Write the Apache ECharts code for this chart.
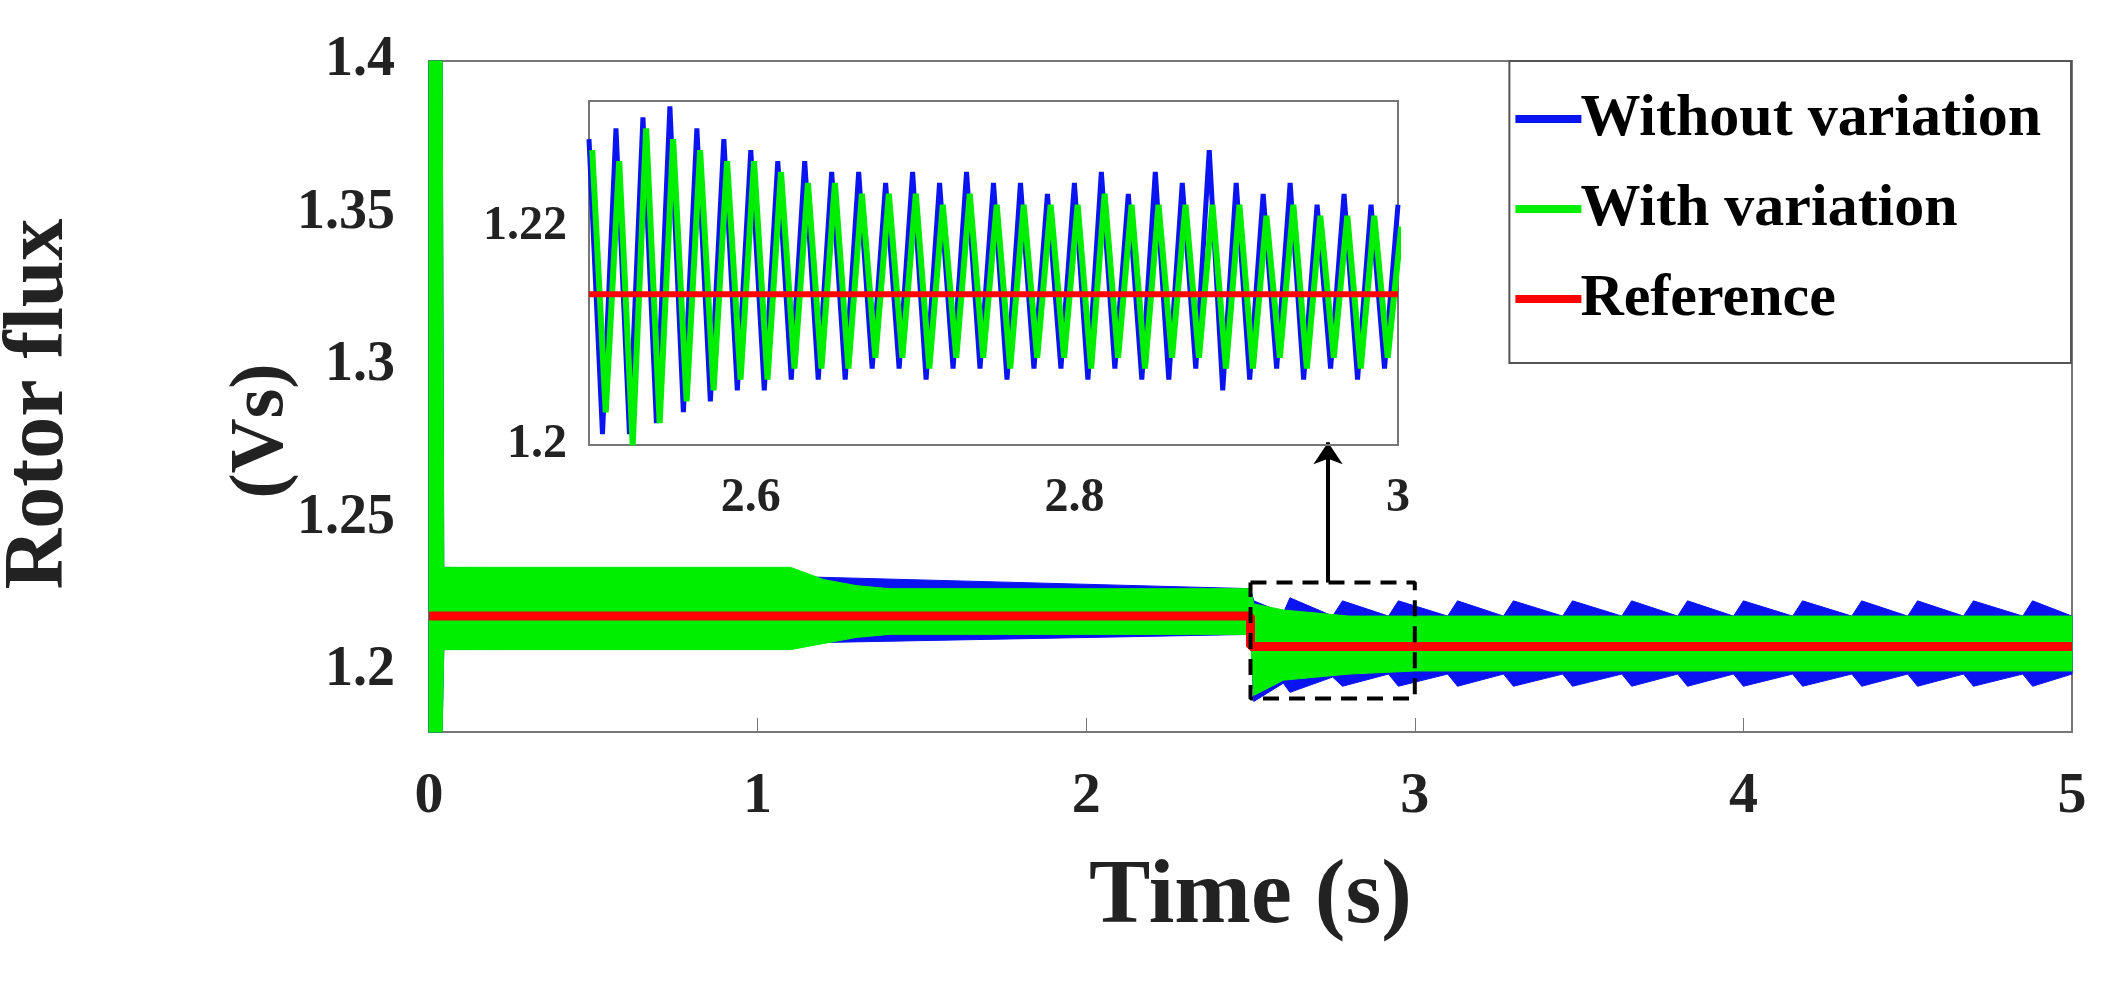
<!doctype html>
<html>
<head>
<meta charset="utf-8">
<script src="https://cdn.jsdelivr.net/npm/echarts@6/dist/echarts.min.js"></script>
<style>html,body{margin:0;background:#fff}#c{width:2104px;height:992px}</style>
</head>
<body>
<div id="c"></div>
<script>
// main chart bands (upper / lower envelope of the oscillation)
var greenT  = [0, 0.04, 0.045, 1.1, 1.2, 1.3, 1.4, 2.0, 2.5, 2.51, 2.6, 2.8, 3.0, 5.0];
var greenHi = [1.4, 1.4, 1.234, 1.234, 1.230, 1.228, 1.227, 1.227, 1.227, 1.222, 1.220, 1.218, 1.218, 1.218];
var greenLo = [1.18, 1.18, 1.207, 1.207, 1.209, 1.211, 1.212, 1.212, 1.212, 1.192, 1.197, 1.199, 1.200, 1.200];

var blueT  = [0, 0.04, 0.045, 2.5, 2.51, 2.6, 2.62, 2.75, 2.78, 2.92, 2.95, 3.1, 3.13, 3.27, 3.3, 3.45, 3.48, 3.63, 3.66, 3.8, 3.83, 3.97, 4.0, 4.15, 4.18, 4.33, 4.36, 4.5, 4.53, 4.67, 4.7, 4.85, 4.88, 5.0];
var blueHi = [1.4, 1.4, 1.234, 1.227, 1.223, 1.219, 1.224, 1.218, 1.223, 1.218, 1.223, 1.218, 1.223, 1.218, 1.223, 1.218, 1.223, 1.218, 1.223, 1.218, 1.223, 1.218, 1.223, 1.218, 1.223, 1.218, 1.223, 1.218, 1.223, 1.218, 1.223, 1.218, 1.223, 1.218];
var blueLo = [1.18, 1.18, 1.207, 1.212, 1.190, 1.196, 1.193, 1.198, 1.195, 1.199, 1.195, 1.199, 1.195, 1.199, 1.195, 1.199, 1.195, 1.199, 1.195, 1.199, 1.195, 1.199, 1.195, 1.199, 1.195, 1.199, 1.195, 1.199, 1.195, 1.199, 1.195, 1.199, 1.195, 1.199];

var refT = [0, 2.5, 2.5, 5];
var refV = [1.218, 1.218, 1.208, 1.208];

// inset: successive peaks / troughs between 2.5 and 3 s
var insetStep = 0.5 / 60;
var blueIn = [1.228,1.201,1.229,1.201,1.230,1.202,1.231,1.203,1.229,1.204,1.228,1.205,1.227,1.205,1.226,1.206,1.226,1.206,1.225,1.206,1.225,1.207,1.224,1.207,1.225,1.206,1.224,1.207,1.225,1.207,1.224,1.206,1.224,1.207,1.223,1.207,1.224,1.206,1.225,1.207,1.223,1.206,1.225,1.206,1.224,1.207,1.227,1.205,1.224,1.206,1.223,1.207,1.224,1.206,1.222,1.207,1.223,1.206,1.222,1.207,1.222];
var greenIn = [1.227,1.203,1.226,1.200,1.229,1.202,1.228,1.204,1.227,1.205,1.226,1.206,1.226,1.206,1.225,1.207,1.224,1.207,1.224,1.207,1.223,1.208,1.223,1.208,1.223,1.207,1.222,1.208,1.223,1.208,1.222,1.207,1.222,1.208,1.222,1.208,1.222,1.207,1.223,1.208,1.222,1.207,1.222,1.208,1.222,1.208,1.222,1.207,1.222,1.207,1.221,1.208,1.222,1.207,1.221,1.208,1.221,1.207,1.221,1.208,1.220];
var refIn = 1.2138;

var BLUE = '#0a14f0', GREEN = '#00ee00', RED = '#ff0000';
var FONT = 'Liberation Serif';

function pairs(t, v) { return t.map(function (x, i) { return [x, v[i]]; }); }
// filled band between hi and lo, drawn as one polygon through the axes
function band(name, t, hi, lo, color) {
    return {
        name: name, type: 'custom', coordinateSystem: 'cartesian2d', color: color, z: 2,
        data: [[t[0], hi[0]]],
        renderItem: function (params, api) {
            var pts = [], i;
            for (i = 0; i < t.length; i++) pts.push(api.coord([t[i], hi[i]]));
            for (i = t.length - 1; i >= 0; i--) pts.push(api.coord([t[i], lo[i]]));
            return {type: 'polygon', shape: {points: pts}, style: {fill: color, stroke: color, lineWidth: 1}};
        }
    };
}
function insetData(v, off) { return v.map(function (y, i) { return [2.5 + off + i * insetStep, y]; }); }

var chart = echarts.init(document.getElementById('c'));
var axisText = {fontFamily: FONT, fontWeight: 'bold', color: '#222'};

chart.setOption({
    animation: false,
    legend: {
        data: [{name: 'Without variation', itemStyle: {color: BLUE}}, {name: 'With variation', itemStyle: {color: GREEN}}, {name: 'Reference', itemStyle: {color: RED}}],
        orient: 'vertical', right: 33, top: 61,
        backgroundColor: '#fff', borderColor: '#555', borderWidth: 2,
        padding: [28, 30, 34, 6], itemGap: 30, itemWidth: 66, itemHeight: 8, icon: 'rect',
        textStyle: {fontFamily: FONT, fontWeight: 'bold', fontSize: 60, color: '#000', padding: [0, 0, 0, -6]}
    },
    grid: [
        {left: 429, right: 32, top: 61, height: 671, show: true, borderColor: '#777', borderWidth: 2},
        {left: 589, width: 809, top: 101, height: 344, show: true, backgroundColor: '#fff', borderColor: '#777', borderWidth: 2, z: 5}
    ],
    xAxis: [
        {gridIndex: 0, type: 'value', min: 0, max: 5, interval: 1, splitLine: {show: false},
            axisLine: {lineStyle: {color: '#777', width: 2}}, axisTick: {inside: true, length: 14, lineStyle: {color: '#777'}},
            axisLabel: Object.assign({fontSize: 58, margin: 36}, axisText),
            name: 'Time (s)', nameLocation: 'middle', nameGap: 120,
            nameTextStyle: {fontFamily: FONT, fontWeight: 'bold', fontSize: 92, color: '#222'}},
        {gridIndex: 1, type: 'value', min: 2.5, max: 3, interval: 0.1, splitLine: {show: false}, z: 6,
            axisLine: {lineStyle: {color: '#777', width: 2}}, axisTick: {show: false},
            axisLabel: Object.assign({fontSize: 48, margin: 30, showMinLabel: false, formatter: function (v) {
                var k = Math.round(v * 10); return k % 2 === 0 ? String(k / 10) : '';
            }}, axisText)}
    ],
    yAxis: [
        {gridIndex: 0, type: 'value', min: 1.18, max: 1.4, interval: 0.01, splitLine: {show: false},
            axisLine: {lineStyle: {color: '#777', width: 2}}, axisTick: {show: false},
            axisLabel: Object.assign({fontSize: 56, margin: 34, formatter: function (v) {
                var k = Math.round(v * 100); return k % 5 === 0 ? String(k / 100) : '';
            }}, axisText)},
        {gridIndex: 1, type: 'value', min: 1.2, max: 1.2315, interval: 0.02, splitLine: {show: false}, z: 6,
            axisLine: {lineStyle: {color: '#777', width: 2}}, axisTick: {show: false},
            axisLabel: Object.assign({fontSize: 48, margin: 22, showMaxLabel: false}, axisText)}
    ],
    graphic: [
        {type: 'text', x: 40, y: 404, rotation: Math.PI / 2, style: {text: 'Rotor flux', font: 'bold 84px "Liberation Serif"', fill: '#222', align: 'center', verticalAlign: 'middle'}},
        {type: 'text', x: 262, y: 431, rotation: Math.PI / 2, style: {text: '(Vs)', font: 'bold 76px "Liberation Serif"', fill: '#222', align: 'center', verticalAlign: 'middle'}}
    ],
    series: [
        band('Without variation', blueT, blueHi, blueLo, BLUE),
        band('With variation', greenT, greenHi, greenLo, GREEN),
        {name: 'Reference', type: 'line', data: pairs(refT, refV), symbol: 'none', color: RED,
            lineStyle: {width: 9, color: RED}, z: 3},
        {type: 'line', data: [[2.5, 1.229], [3, 1.229], [3, 1.191], [2.5, 1.191], [2.5, 1.229]], symbol: 'none',
            lineStyle: {color: '#000', width: 4, type: [16, 10]}, z: 4, silent: true,
            markLine: {silent: true, symbol: ['none', 'arrow'], symbolSize: 22, label: {show: false},
                lineStyle: {color: '#000', width: 4, type: 'solid'},
                data: [[{coord: [2.736, 1.229]}, {coord: [2.736, 1.275]}]]}},
        {name: 'Without variation', type: 'line', xAxisIndex: 1, yAxisIndex: 1, data: insetData(blueIn, 0),
            symbol: 'none', lineStyle: {width: 5, color: BLUE}, color: BLUE, z: 7},
        {name: 'With variation', type: 'line', xAxisIndex: 1, yAxisIndex: 1, data: insetData(greenIn, 0.002),
            symbol: 'none', lineStyle: {width: 6, color: GREEN}, color: GREEN, z: 7},
        {name: 'Reference', type: 'line', xAxisIndex: 1, yAxisIndex: 1, data: [[2.5, refIn], [3, refIn]],
            symbol: 'none', lineStyle: {width: 6, color: RED}, color: RED, z: 8}
    ]
});
</script>
</body>
</html>
